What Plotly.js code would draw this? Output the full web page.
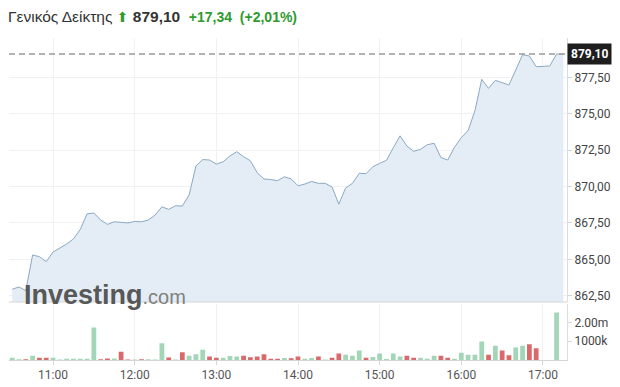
<!DOCTYPE html>
<html>
<head>
<meta charset="utf-8">
<script src="https://cdn.plot.ly/plotly-3.0.1.min.js"></script>
<style>
  html, body { margin: 0; padding: 0; background: #fff; }
  #chart { width: 620px; height: 387px; }
</style>
</head>
<body>
<div id="chart"></div>
<script>
// ---- data ----
const sessionDate = '2024-01-02';
const times = [
  '10:30','10:35','10:40','10:45','10:50','10:55',
  '11:00','11:05','11:10','11:15','11:20','11:25','11:30','11:35','11:40','11:45','11:50','11:55',
  '12:00','12:05','12:10','12:15','12:20','12:25','12:30','12:35','12:40','12:45','12:50','12:55',
  '13:00','13:05','13:10','13:15','13:20','13:25','13:30','13:35','13:40','13:45','13:50','13:55',
  '14:00','14:05','14:10','14:15','14:20','14:25','14:30','14:35','14:40','14:45','14:50','14:55',
  '15:00','15:05','15:10','15:15','15:20','15:25','15:30','15:35','15:40','15:45','15:50','15:55',
  '16:00','16:05','16:10','16:15','16:20','16:25','16:30','16:35','16:40','16:45','16:50','16:55',
  '17:00','17:05','17:10','17:15'
];
const prices = [
  862.95, 863.10, 862.85, 865.30, 865.18, 864.84,
  865.50, 865.75, 866.05, 866.40, 867.05, 868.12, 868.18, 867.70, 867.40, 867.58, 867.53, 867.50,
  867.60, 867.58, 867.70, 868.04, 868.61, 868.43, 868.68, 868.66, 869.42, 871.41, 871.85, 871.82,
  871.54, 871.70, 872.10, 872.39, 872.05, 871.77, 870.95, 870.52, 870.48, 870.40, 870.67, 870.52,
  870.05, 870.17, 870.35, 870.22, 870.22, 869.97, 868.79, 869.90, 870.22, 870.91, 870.88, 871.36,
  871.59, 871.80, 872.66, 873.48, 872.78, 872.42, 872.55, 872.87, 872.97, 871.99, 871.82, 872.70,
  873.36, 873.85, 875.20, 877.36, 876.74, 877.29, 877.13, 876.97, 878.00, 879.05, 878.97, 878.23,
  878.25, 878.28, 879.10, 879.10
];
// volume in millions of shares
const volumes = [
  0.12, 0.04, 0.04, 0.22, 0.12, 0.12,
  0.12, 0.03, 0.06, 0.06, 0.06, 0.06, 1.72, 0.04, 0.08, 0.08, 0.44, 0.03,
  0.03, 0.04, 0.04, 0.03, 0.89, 0.13, 0.03, 0.41, 0.23, 0.30, 0.55, 0.18,
  0.12, 0.12, 0.21, 0.18, 0.23, 0.14, 0.18, 0.30, 0.07, 0.07, 0.11, 0.09,
  0.18, 0.07, 0.10, 0.18, 0.03, 0.12, 0.34, 0.28, 0.23, 0.50, 0.12, 0.16,
  0.34, 0.05, 0.34, 0.18, 0.23, 0.12, 0.12, 0.07, 0.23, 0.23, 0.12, 0.07,
  0.39, 0.28, 0.28, 0.98, 0.28, 0.76, 0.50, 0.25, 0.66, 0.76, 0.83, 0.62,
  null, null, 2.52, null
];
const priceTicks = [862.5, 865, 867.5, 870, 872.5, 875, 877.5];
const volTickVals = [1, 2];
const volTickText = ['1000k', '2.00m'];
const indexName = 'Γενικός Δείκτης';
const lastPriceText = '879,10';
const changeText = '+17,34';
const changePctText = '(+2,01%)';

// ---- build ----
const xs = times.map(t => sessionDate + ' ' + t);
const lastPrice = prices[prices.length - 1];
const upColor = '#a3d6b7', downColor = '#d86a6b';
const barColors = prices.map((p, i) => (i === 0 || p >= prices[i - 1]) ? upColor : downColor);
const green = '#2f9a2f';

const priceTrace = {
  x: xs, y: prices, type: 'scatter', mode: 'lines',
  line: { color: '#8aa9c4', width: 1 },
  fill: 'tozeroy', fillcolor: '#e4edf5',
  xaxis: 'x', yaxis: 'y', hoverinfo: 'skip'
};
const volTrace = {
  x: xs, y: volumes, type: 'bar',
  marker: { color: barColors, line: { width: 0 } },
  xaxis: 'x', yaxis: 'y2', hoverinfo: 'skip'
};

const layout = {
  width: 620, height: 387,
  margin: { l: 9, r: 53, t: 38, b: 27 },
  paper_bgcolor: '#fff', plot_bgcolor: '#fff',
  showlegend: false,
  separators: ',.',
  bargap: 0.3,
  font: { family: 'Roboto, "Liberation Sans", Arial, sans-serif', color: '#444', size: 12 },
  title: {
    text: indexName +
          ' <span style="color:' + green + ';font-size:14px;font-family:\'DejaVu Sans\'">⬆</span> ' +
          '<b>' + lastPriceText + '</b>  ' +
          '<span style="color:' + green + ';font-size:14px"><b>' + changeText + '</b>  <b>' + changePctText + '</b></span>',
    x: 8 / 620, xanchor: 'left', xref: 'container',
    y: 1 - 17 / 387, yanchor: 'middle', yref: 'container',
    font: { family: '"Liberation Sans", Arial, sans-serif', size: 15.5, color: '#333' }
  },
  xaxis: {
    type: 'date', anchor: 'y2',
    range: [sessionDate + ' 10:27:39', sessionDate + ' 17:17:39'],
    dtick: 3600000, tickformat: '%H:%M',
    showgrid: true, gridcolor: '#eff1f3', gridwidth: 1,
    showline: true, linecolor: '#d5d5d5', linewidth: 1,
    ticks: 'outside', ticklen: 4, tickcolor: '#d5d5d5',
    tickfont: { size: 12, color: '#555' },
    zeroline: false, fixedrange: true
  },
  yaxis: {
    domain: [(360 - 302) / 322, 1], side: 'right',
    range: [862.07, 880.2],
    tickvals: priceTicks, tickformat: '.2f',
    showgrid: true, gridcolor: '#eff1f3',
    showline: true, linecolor: '#dcdcdc',
    ticks: 'outside', ticklen: 4, tickcolor: '#d5d5d5',
    tickfont: { size: 12, color: '#444' },
    zeroline: false, fixedrange: true
  },
  yaxis2: {
    domain: [0, (360 - 303.5) / 322], side: 'right',
    range: [0, 3.0],
    tickvals: volTickVals, ticktext: volTickText,
    showgrid: false,
    showline: true, linecolor: '#dcdcdc',
    ticks: 'outside', ticklen: 4, tickcolor: '#d5d5d5',
    tickfont: { size: 12, color: '#444' },
    zeroline: false, fixedrange: true
  },
  shapes: [
    { type: 'line', xref: 'paper', x0: 0, x1: 1, yref: 'y', y0: lastPrice, y1: lastPrice,
      line: { color: '#9a9a9a', width: 1.5, dash: '6px,4px' } },
    { type: 'line', xref: 'paper', x0: 0, x1: 1, yref: 'y domain', y0: 0, y1: 0,
      line: { color: '#d5d5d5', width: 1 } }
  ],
  annotations: [
    { xref: 'paper', x: 1, xanchor: 'left', yref: 'y', y: lastPrice, yanchor: 'middle',
      text: '<b>' + lastPriceText + '</b>', showarrow: false,
      bgcolor: '#1e1e1e', font: { color: '#fff', size: 12, family: 'Roboto, Arial, sans-serif' },
      borderpad: 3 },
    { xref: 'paper', x: 13 / 557, xanchor: 'left', yref: 'paper', y: (360 - 295) / 322, yanchor: 'middle',
      text: '<b>Investing</b><span style="font-size:20px;color:#808080">.com</span>', showarrow: false,
      font: { color: '#585858', size: 27, family: '"Liberation Sans", Arial, sans-serif' } }
  ]
};

Plotly.newPlot('chart', [priceTrace, volTrace], layout, { displayModeBar: false, staticPlot: true });
</script>
</body>
</html>
